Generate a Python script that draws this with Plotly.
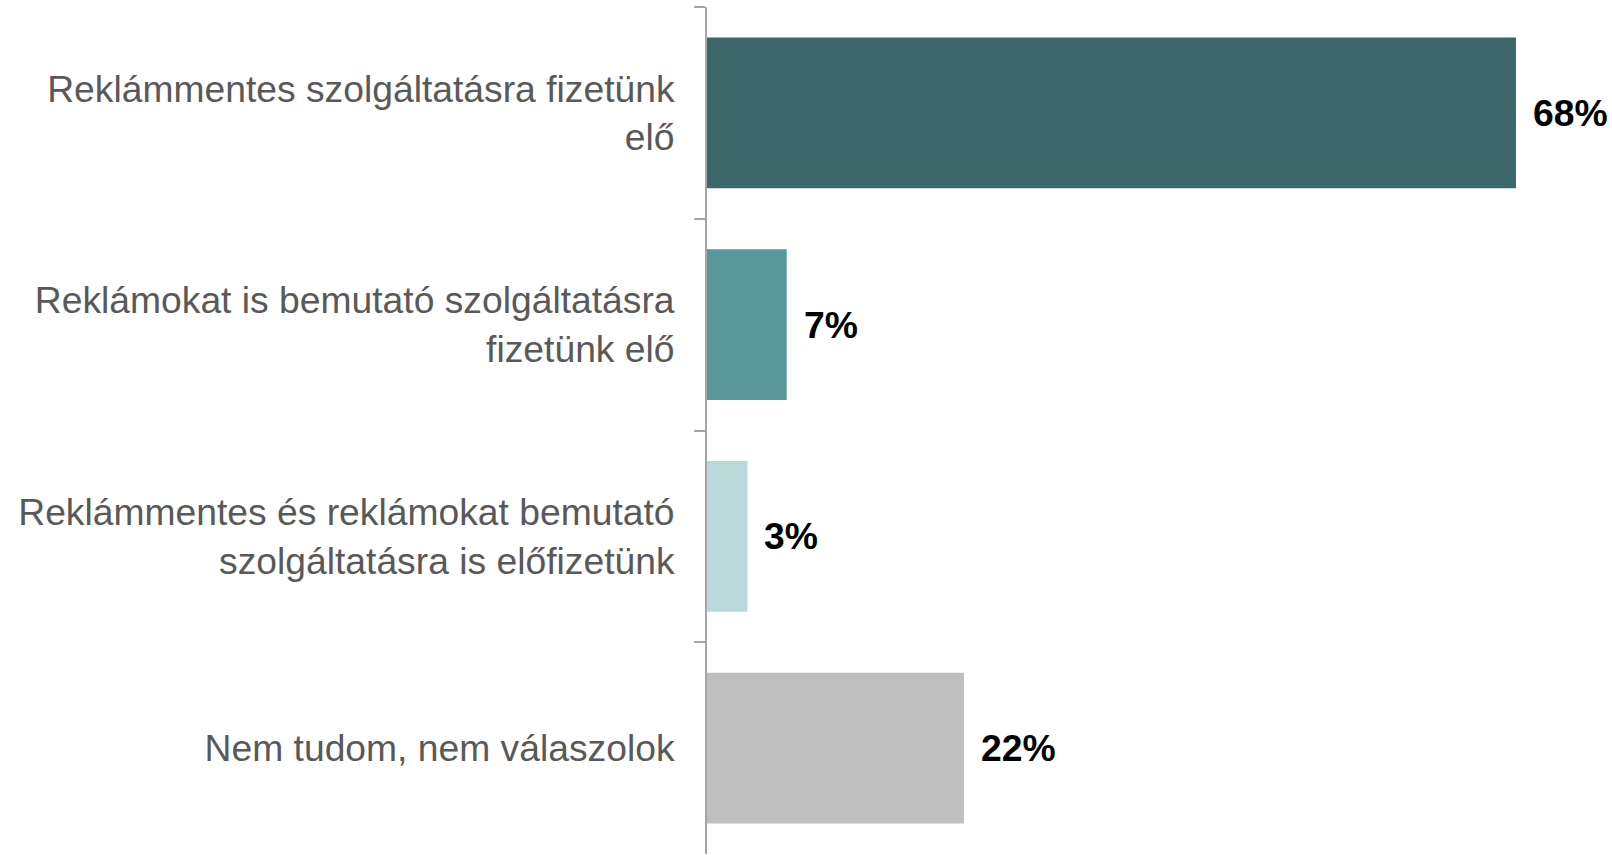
import plotly.graph_objects as go

categories = [
    "Reklámmentes szolgáltatásra fizetünk<br>elő",
    "Reklámokat is bemutató szolgáltatásra<br>fizetünk elő",
    "Reklámmentes és reklámokat bemutató<br>szolgáltatásra is előfizetünk",
    "Nem tudom, nem válaszolok",
]
values = [68.0, 6.7, 3.4, 21.6]
colors = ["#3E6769", "#5A979C", "#BAD7DA", "#BFBFBF"]

fig = go.Figure(
    go.Bar(
        x=values,
        y=categories,
        orientation="h",
        marker=dict(color=colors, line=dict(width=0)),
        hoverinfo="skip",
    )
)

for v, c in zip(values, categories):
    fig.add_annotation(
        x=v, y=c, text=f"<b>{round(v):d}%</b>", showarrow=False,
        xanchor="left", yanchor="middle", xshift=15,
        font=dict(family="Liberation Sans, Arial, sans-serif", size=37.3, color="#000000"),
    )

fig.update_layout(
    width=1612, height=855,
    margin=dict(l=707, r=5, t=7, b=1),
    paper_bgcolor="white", plot_bgcolor="white",
    bargap=0.287,
    showlegend=False,
    font=dict(family="Liberation Sans, Arial, sans-serif"),
)
fig.update_xaxes(range=[0, 75.65], visible=False, fixedrange=True)
fig.update_yaxes(
    autorange="reversed",
    showline=True, linecolor="#A6A6A6", linewidth=2,
    ticks="outside", tickson="boundaries", ticklen=11, tickcolor="#A6A6A6", tickwidth=2,
    showgrid=False, zeroline=False,
    tickfont=dict(family="Liberation Sans, Arial, sans-serif", size=37.25, color="#595959"),
    ticklabelstandoff=23,
    automargin=False,
    fixedrange=True,
)

fig.write_html(
    "out.html",
    config={"displayModeBar": False, "staticPlot": True},
    post_script="document.body.style.margin='0';document.body.style.overflow='hidden';",
)
